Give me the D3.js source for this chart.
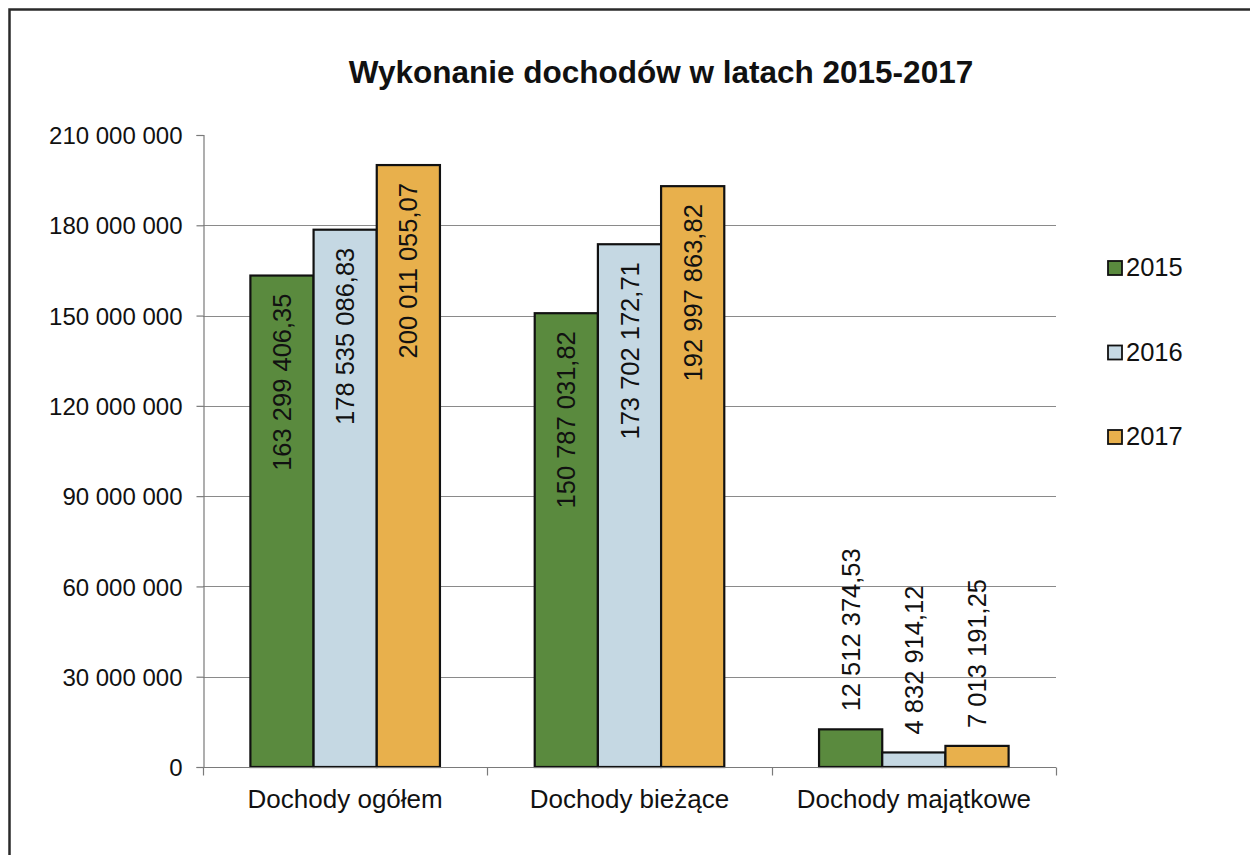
<!DOCTYPE html>
<html>
<head>
<meta charset="utf-8">
<script src="https://cdn.jsdelivr.net/npm/d3@7"></script>
<style>
  html, body { margin: 0; padding: 0; background: #ffffff; }
  svg { display: block; font-family: "Liberation Sans", Arial, sans-serif; }
</style>
</head>
<body>
<svg id="chart" width="1250" height="855"></svg>
<script>
// ---- data ----
const title = "Wykonanie dochodów w latach 2015-2017";
const categories = ["Dochody ogółem", "Dochody bieżące", "Dochody majątkowe"];
const years = ["2015", "2016", "2017"];
const values2015 = [163299406.35, 150787031.82, 12512374.53];
const values2016 = [178535086.83, 173702172.71, 4832914.12];
const values2017 = [200011055.07, 192997863.82, 7013191.25];
const yTicks = [0, 30000000, 60000000, 90000000, 120000000, 150000000, 180000000, 210000000];
const colors = ["#5a8a3e", "#c5d8e3", "#e8b04c"];

const seriesValues = [values2015, values2016, values2017];

const plLocale = d3.formatLocale({ decimal: ",", thousands: "\u00a0", grouping: [3], currency: ["", " zł"] });
const fmtInt = plLocale.format(",.0f");
const fmtDec = plLocale.format(",.2f");

const svg = d3.select("#chart");
const W = 1250, H = 855;

// frame
svg.append("rect").attr("x", 0).attr("y", 0).attr("width", W).attr("height", H).attr("fill", "#ffffff");
svg.append("rect")
  .attr("x", 9.5).attr("y", 9.5).attr("width", 1400).attr("height", 1000)
  .attr("fill", "none").attr("stroke", "#2a2a2a").attr("stroke-width", 2.5);

// scales
const plotLeft = 203, plotRight = 1056, plotTop = 135, plotBottom = 767;
const x0 = d3.scaleBand().domain(categories).range([plotLeft, plotRight]).padding(0);
const x1 = d3.scaleBand().domain(years).range([0, x0.bandwidth()]).paddingInner(0).paddingOuter(0.75);
const y = d3.scaleLinear().domain([0, 210000000]).range([plotBottom, plotTop]);

// gridlines (not at 0 and not at the top)
svg.append("g")
  .selectAll("line")
  .data(yTicks.filter(t => t > 0 && t < 210000000))
  .join("line")
  .attr("x1", plotLeft).attr("x2", plotRight)
  .attr("y1", d => Math.round(y(d)) + 0.5).attr("y2", d => Math.round(y(d)) + 0.5)
  .attr("stroke", "#8a8a8a").attr("stroke-width", 1.2);

// y axis
const yAxis = d3.axisLeft(y).tickValues(yTicks).tickSize(7).tickPadding(14).tickFormat(d => fmtInt(d));
const gy = svg.append("g").attr("transform", `translate(${plotLeft + 0.5},0)`).call(yAxis);
gy.select(".domain").attr("stroke", "#7a7a7a").attr("stroke-width", 1.2);
gy.selectAll(".tick line").attr("stroke", "#7a7a7a").attr("stroke-width", 1.2);
gy.selectAll(".tick text").attr("font-size", 24).attr("fill", "#111").attr("font-family", "Liberation Sans, Arial, sans-serif").attr("dy", "0.36em");

// bars
const rows = categories.map((c, i) => ({ cat: c, vals: years.map((yr, j) => ({ year: yr, idx: j, v: seriesValues[j][i] })) }));

const groups = svg.append("g").selectAll("g").data(rows).join("g")
  .attr("transform", d => `translate(${x0(d.cat)},0)`);

groups.selectAll("rect").data(d => d.vals).join("rect")
  .attr("x", d => x1(d.year))
  .attr("y", d => y(d.v))
  .attr("width", x1.bandwidth())
  .attr("height", d => y(0) - y(d.v))
  .attr("fill", d => colors[d.idx])
  .attr("stroke", "#111").attr("stroke-width", 2.2);

// x axis
const xAxisG = svg.append("g").attr("transform", `translate(0,${plotBottom + 0.5})`);
xAxisG.append("line").attr("x1", plotLeft).attr("x2", plotRight).attr("stroke", "#7a7a7a").attr("stroke-width", 1.2);
const xBounds = categories.map(c => x0(c)).concat([x0(categories[categories.length - 1]) + x0.bandwidth()]);
xAxisG.selectAll("line.xt").data(xBounds).join("line").attr("class", "xt")
  .attr("x1", d => Math.round(d) + 0.5).attr("x2", d => Math.round(d) + 0.5)
  .attr("y1", 0).attr("y2", 8).attr("stroke", "#7a7a7a").attr("stroke-width", 1.2);
xAxisG.selectAll("text").data(categories).join("text")
  .attr("x", d => x0(d) + x0.bandwidth() / 2)
  .attr("y", 40)
  .attr("text-anchor", "middle")
  .attr("font-size", 26).attr("fill", "#111")
  .text(d => d);

// data labels (rotated)
groups.selectAll("text.lbl").data(d => d.vals).join("text")
  .attr("class", "lbl")
  .attr("font-size", 25.5).attr("fill", "#111")
  .text(d => fmtDec(d.v))
  .each(function (d) {
    const t = d3.select(this);
    const len = this.getComputedTextLength();
    const cx = x1(d.year) + x1.bandwidth() / 2;
    const barH = y(0) - y(d.v);
    let yy, anchor;
    if (barH > len + 30) {
      yy = y(d.v) + 18; anchor = "end";
    } else {
      yy = y(d.v) - 18; anchor = "start";
    }
    t.attr("text-anchor", anchor)
      .attr("transform", `translate(${cx + 9},${yy}) rotate(-90)`);
  });

// title
svg.append("text")
  .attr("x", 661).attr("y", 83)
  .attr("text-anchor", "middle")
  .attr("font-size", 31.5).attr("font-weight", "bold").attr("fill", "#111")
  .text(title);

// legend
const legend = svg.append("g").selectAll("g").data(years).join("g")
  .attr("transform", (d, i) => `translate(1108,${276 + i * 84.5})`);
legend.append("rect").attr("x", 0).attr("y", -15).attr("width", 14).attr("height", 14)
  .attr("fill", (d, i) => colors[i]).attr("stroke", "#111").attr("stroke-width", 1.8);
legend.append("text").attr("x", 18).attr("y", 0).attr("font-size", 25.5).attr("fill", "#111").text(d => d);
</script>
</body>
</html>
